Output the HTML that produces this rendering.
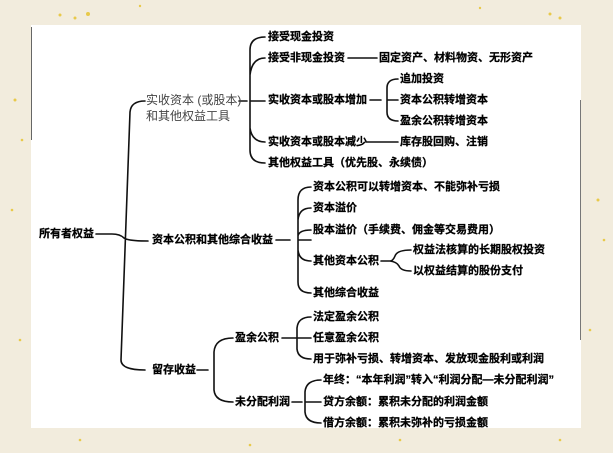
<!DOCTYPE html>
<html><head><meta charset="utf-8"><style>
html,body{margin:0;padding:0;}
body{width:613px;height:453px;background:#f2ecdd;position:relative;overflow:hidden;}
svg{position:absolute;left:0;top:0;}
text{font-family:"Liberation Sans","Noto Sans CJK SC",sans-serif;font-size:11px;font-weight:bold;fill:#000;stroke:#000;stroke-width:0.25;dominant-baseline:middle;}
.n{font-weight:normal;fill:#444;stroke:none;font-size:12px;}
</style></head><body>
<svg width="613" height="453" viewBox="0 0 613 453">
<g fill="#e8c94a">
<circle cx="60" cy="15" r="1.5"/><circle cx="75" cy="18" r="1.5"/><circle cx="88" cy="14" r="2"/><circle cx="140" cy="6" r="1.2"/><circle cx="480" cy="8" r="1.2"/><circle cx="550" cy="14" r="1.5"/><circle cx="560" cy="18" r="1.5"/>
<circle cx="15" cy="100" r="1.5"/><circle cx="22" cy="140" r="1.3"/><circle cx="12" cy="210" r="1.3"/><circle cx="598" cy="200" r="1.5"/><circle cx="604" cy="240" r="1.3"/><circle cx="590" cy="330" r="1.3"/><circle cx="20" cy="340" r="1.3"/>
<circle cx="80" cy="440" r="1.3"/><circle cx="250" cy="445" r="1.3"/><circle cx="400" cy="440" r="1.3"/><circle cx="560" cy="440" r="1.3"/>
</g>
<rect x="31" y="25" width="550" height="403" fill="#fff"/>
<line x1="31.5" y1="27" x2="31.5" y2="140" stroke="#666" stroke-width="1"/>
<line x1="580.5" y1="100" x2="580.5" y2="340" stroke="#777" stroke-width="1"/>
<g fill="none" stroke="#111" stroke-width="1.6" stroke-linecap="round">
<path d="M96,234 H112 M145,101 Q131,101 130,112 L121,360 Q121,370 145,370 M112,234 Q120,234 124,238 Q128,241 148,241"/>
<path d="M239,101 H247 M265,37 Q250,37 250,50 V150 Q250,163 265,163 M250,101 H265 M265,58 Q252,58 250,75 M265,142 Q252,142 250,128"/>
<line x1="348" y1="58" x2="377" y2="58"/>
<path d="M370,100 H381 M398,79 Q387,79 387,88 V112 Q387,121 398,121 M387,100 H398"/>
<line x1="366" y1="142" x2="398" y2="142"/>
<path d="M276,240 H290 M311,187 Q298,187 298,200 V282 Q298,293 311,293 M298,240 H311 M311,208 Q299,208 298,220 M311,230 Q299,230 298,236 M311,261 Q299,261 298,250"/>
<path d="M381,261 H390 M411,250 Q397,250 395,256 Q393,261 390,261 Q397,262 399,266 Q401,271 411,271"/>
<path d="M197,370 H208 M233,338 Q215,338 214,352 V390 Q215,402 233,402"/>
<path d="M282,338 H296 M311,317 Q298,317 297,328 V349 Q298,359 311,359 M296,338 H311"/>
<path d="M292,402 H302 M321,380 Q306,380 305,392 V412 Q306,423 321,423 M305,402 H321"/>
</g>
<text x="39" y="234">所有者权益</text>
<text class="n" x="146" y="101">实收资本 (或股本)</text>
<text class="n" x="146" y="117">和其他权益工具</text>
<text x="268" y="37">接受现金投资</text>
<text x="268" y="58">接受非现金投资</text>
<text x="379" y="58">固定资产、材料物资、无形资产</text>
<text x="268" y="100">实收资本或股本增加</text>
<text x="400" y="79">追加投资</text>
<text x="400" y="100">资本公积转增资本</text>
<text x="400" y="121">盈余公积转增资本</text>
<text x="268" y="142">实收资本或股本减少</text>
<text x="400" y="142">库存股回购、注销</text>
<text x="268" y="163">其他权益工具（优先股、永续债）</text>
<text x="152" y="240">资本公积和其他综合收益</text>
<text x="313" y="187">资本公积可以转增资本、不能弥补亏损</text>
<text x="313" y="208">资本溢价</text>
<text x="313" y="230">股本溢价（手续费、佣金等交易费用）</text>
<text x="313" y="261">其他资本公积</text>
<text x="413" y="250">权益法核算的长期股权投资</text>
<text x="413" y="271">以权益结算的股份支付</text>
<text x="313" y="293">其他综合收益</text>
<text x="152" y="370">留存收益</text>
<text x="235" y="338">盈余公积</text>
<text x="313" y="317">法定盈余公积</text>
<text x="313" y="338">任意盈余公积</text>
<text x="313" y="359">用于弥补亏损、转增资本、发放现金股利或利润</text>
<text x="235" y="402">未分配利润</text>
<text x="323" y="380">年终：“本年利润”转入“利润分配—未分配利润”</text>
<text x="323" y="402">贷方余额：累积未分配的利润金额</text>
<text x="323" y="423">借方余额：累积未弥补的亏损金额</text>
</svg>
</body></html>
